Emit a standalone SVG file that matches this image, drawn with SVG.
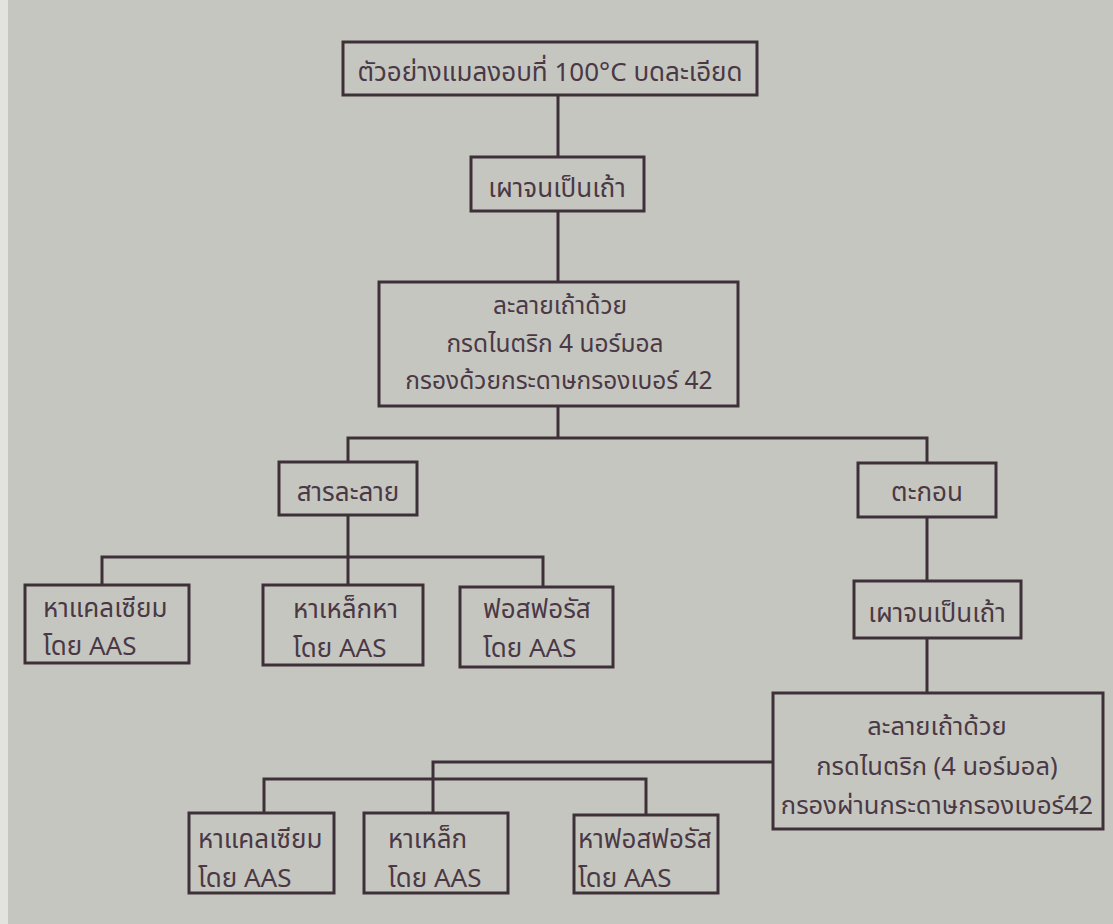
<svg xmlns="http://www.w3.org/2000/svg" width="1113" height="924" viewBox="0 0 1113 924">
<style>
.bg{fill:#c6c6c1}
.box{fill:none;stroke:#3e3039;stroke-width:3}
.ln{fill:none;stroke:#3e3039;stroke-width:3}
text{font-family:"Noto Sans Thai","Liberation Sans","Noto Sans",sans-serif;fill:#4a3945;font-size:26px}
.c{text-anchor:middle}
.m{font-size:24.5px}
.r{font-size:25.5px}
</style>
<rect class="bg" x="0" y="0" width="1113" height="924"/>
<rect x="0" y="0" width="8" height="924" fill="#e2e2de"/>
<g id="connectors">
<path class="ln" d="M558 95V157"/>
<path class="ln" d="M558 211V282"/>
<path class="ln" d="M558 406V438"/>
<path class="ln" d="M348 462V438H927V463"/>
<path class="ln" d="M348 515V557"/>
<path class="ln" d="M102 585V557H543V587"/>
<path class="ln" d="M348 557V585"/>
<path class="ln" d="M927 517V581"/>
<path class="ln" d="M927 638V693"/>
<path class="ln" d="M773 762H433V813"/>
<path class="ln" d="M264 813V779H646V815"/>
</g>
<g id="n1"><rect class="box" x="343" y="42" width="414" height="53"/><text class="c" x="550" y="81">ตัวอย่างแมลงอบที่ 100°C บดละเอียด</text></g>
<g id="n2"><rect class="box" x="471" y="157" width="173" height="54"/><text class="c" x="557" y="197">เผาจนเป็นเถ้า</text></g>
<g id="n3"><rect class="box" x="379" y="282" width="359" height="124"/>
<text class="c m" x="560" y="314">ละลายเถ้าด้วย</text>
<text class="c m" x="555" y="352">กรดไนตริก 4 นอร์มอล</text>
<text class="c m" x="559" y="389">กรองด้วยกระดาษกรองเบอร์ 42</text></g>
<g id="n4"><rect class="box" x="279" y="462" width="138" height="53"/><text class="c" x="348" y="501">สารละลาย</text></g>
<g id="n5"><rect class="box" x="858" y="463" width="138" height="54"/><text class="c" x="927" y="501">ตะกอน</text></g>
<g id="n6"><rect class="box" x="25" y="585" width="164" height="78"/><text x="43" y="617">หาแคลเซียม</text><text x="43" y="655">โดย AAS</text></g>
<g id="n7"><rect class="box" x="263" y="585" width="160" height="80"/><text x="293" y="618">หาเหล็กหา</text><text x="293" y="657">โดย AAS</text></g>
<g id="n8"><rect class="box" x="460" y="587" width="153" height="80"/><text x="483" y="618">ฟอสฟอรัส</text><text x="483" y="657">โดย AAS</text></g>
<g id="n9"><rect class="box" x="854" y="581" width="167" height="57"/><text class="c" x="937" y="622">เผาจนเป็นเถ้า</text></g>
<g id="n10"><rect class="box" x="773" y="693" width="330" height="136"/>
<text class="c r" x="937" y="735">ละลายเถ้าด้วย</text>
<text class="c r" x="937" y="775">กรดไนตริก (4 นอร์มอล)</text>
<text class="c r" x="937" y="814">กรองผ่านกระดาษกรองเบอร์42</text></g>
<g id="n11"><rect class="box" x="189" y="813" width="145" height="80"/><text x="198" y="848">หาแคลเซียม</text><text x="198" y="887">โดย AAS</text></g>
<g id="n12"><rect class="box" x="364" y="813" width="144" height="80"/><text x="388" y="848">หาเหล็ก</text><text x="388" y="887">โดย AAS</text></g>
<g id="n13"><rect class="box" x="574" y="815" width="144" height="78"/><text x="578" y="848">หาฟอสฟอรัส</text><text x="578" y="887">โดย AAS</text></g>
</svg>
